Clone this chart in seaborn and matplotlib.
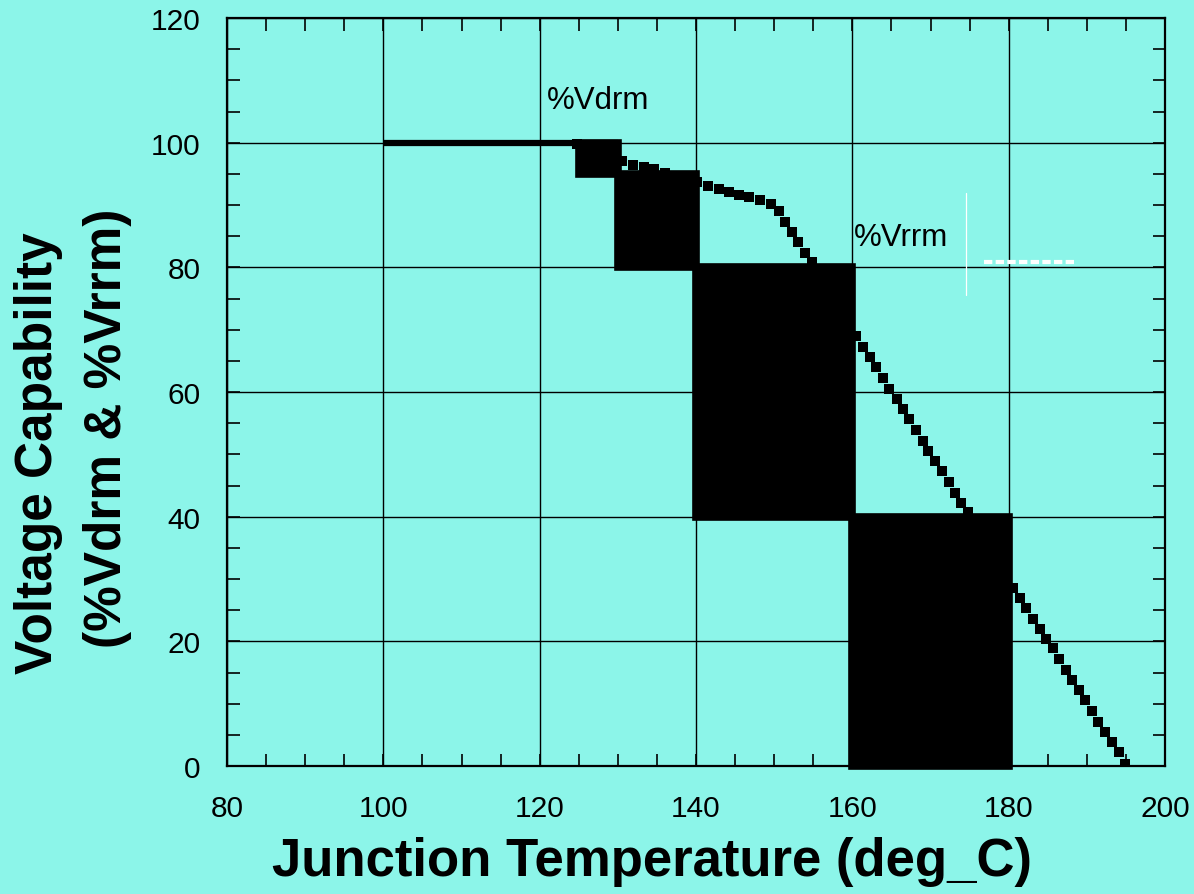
import matplotlib
matplotlib.use("Agg")
import matplotlib.pyplot as plt
from matplotlib.ticker import MultipleLocator
import seaborn as sns
import pandas as pd

# ---- data ----
vdrm_x = [100, 130]
vdrm_y = [100, 100]

curve_x = [124.8, 126.2, 127.7, 129.1, 130.5, 131.9, 133.3, 134.6, 136.0, 137.3,
           138.6, 140.1, 141.5, 142.9, 144.2, 145.5, 146.8, 148.2, 149.6, 150.6,
           151.4, 152.3, 153.0, 153.9, 154.8, 155.6, 156.3, 156.9, 157.8, 158.7,
           159.5, 160.5, 161.4, 162.3, 163.0, 163.9, 164.7, 165.7, 166.5, 167.2,
           168.1, 169.0, 169.7, 170.6, 171.5, 172.4, 173.1, 173.9, 174.8, 175.6,
           176.3, 177.1, 178.0, 178.9, 179.8, 180.6, 181.4, 182.2, 183.1, 184.0,
           184.8, 185.7, 186.4, 187.3, 188.1, 189.0, 189.8, 190.7, 191.4, 192.3,
           193.2, 194.1, 194.9]
curve_y = [99.8, 99.4, 98.8, 98.2, 97.1, 96.4, 96.1, 95.7, 95.2, 94.7,
           94.2, 93.7, 93.1, 92.6, 92.1, 91.6, 91.3, 90.8, 90.2, 89.0,
           87.3, 85.7, 84.1, 82.3, 80.9, 79.4, 77.8, 76.0, 74.4, 72.8,
           71.0, 69.0, 67.2, 65.6, 64.0, 62.3, 60.5, 58.9, 57.3, 55.7,
           53.9, 52.1, 50.5, 48.9, 47.3, 45.6, 43.8, 42.2, 40.7, 39.0,
           37.5, 35.8, 34.1, 32.3, 30.6, 28.6, 27.0, 25.3, 23.6, 22.0,
           20.4, 18.9, 17.2, 15.4, 13.8, 12.2, 10.6, 8.8, 7.1, 5.5,
           3.9, 2.2, 0.3]

block_left = [125, 130, 140, 160]
block_right = [130, 140, 160, 180]
block_bottom = [95, 80, 40, 0]
block_top = [100, 95, 80, 40]

x_ticks = [80, 100, 120, 140, 160, 180, 200]
y_ticks = [0, 20, 40, 60, 80, 100, 120]

bg = "#8CF5E9"

sns.set_theme(style="ticks")
plt.rcParams["font.family"] = ["Liberation Sans", "DejaVu Sans"]
plt.rcParams["text.color"] = "black"
plt.rcParams["axes.labelcolor"] = "black"
plt.rcParams["xtick.color"] = "black"
plt.rcParams["ytick.color"] = "black"

fig = plt.figure(figsize=(11.94, 8.95), dpi=100, facecolor=bg)
ax = fig.add_axes([227 / 1194, 128 / 895, 938 / 1194, 748 / 895])
ax.set_facecolor(bg)

# grid
ax.set_axisbelow(True)
ax.grid(True, which="major", color="black", linewidth=1.0)

# curve markers
df = pd.DataFrame({"T": curve_x, "V": curve_y})
sns.scatterplot(data=df, x="T", y="V", marker="s", s=58, color="black",
                linewidth=0, ax=ax, zorder=2)

# %Vdrm flat line
sns.lineplot(x=vdrm_x, y=vdrm_y, color="black", linewidth=4.5, ax=ax,
             zorder=2, solid_capstyle="butt")

# black blocks
widths = [r - l for l, r in zip(block_left, block_right)]
heights = [t - b for b, t in zip(block_bottom, block_top)]
ax.bar(block_left, heights, width=widths, bottom=block_bottom, align="edge",
       color="black", edgecolor="black", linewidth=5.5, joinstyle="miter",
       zorder=3, clip_on=False)

# white legend-like strokes
ax.plot([174.5, 174.5], [75.6, 91.9], color="white", linewidth=0.9, zorder=4)
ax.plot([176.8, 188.6], [80.9, 80.9], color="white", linewidth=3,
        linestyle=(0, (2, 0.8)), zorder=4, dash_capstyle="butt")

# annotations
ax.text(127.5, 106.8, "%Vdrm", fontsize=22.5, ha="center", va="center", color="black")
ax.text(166.2, 84.9, "%Vrrm", fontsize=22.5, ha="center", va="center", color="black")

ax.set_xlim(80, 200)
ax.set_ylim(0, 120)
ax.set_xticks(x_ticks)
ax.set_yticks(y_ticks)
ax.xaxis.set_minor_locator(MultipleLocator(5))
ax.yaxis.set_minor_locator(MultipleLocator(5))
ax.tick_params(which="both", direction="in", top=True, right=True, colors="black")
ax.tick_params(which="major", length=9, width=1.2)
ax.tick_params(which="minor", length=9, width=1.2)
ax.tick_params(axis="x", which="major", labelsize=21.5, pad=20)
ax.tick_params(axis="y", which="major", labelsize=21.5, pad=19)
ax.set_xlabel("")
ax.set_ylabel("")
for sp in ax.spines.values():
    sp.set_visible(True)
    sp.set_color("black")
    sp.set_linewidth(1.6)

fig.text(652 / 1194, 1 - 862 / 895, "Junction Temperature (deg_C)", fontsize=38,
         fontweight="bold", ha="center", va="center", color="black")
fig.text(38.5 / 1194, 1 - 453 / 895, "Voltage Capability", fontsize=37,
         fontweight="bold", ha="center", va="center", rotation=90, color="black")
fig.text(108 / 1194, 1 - 428 / 895, "(%Vdrm & %Vrrm)", fontsize=37,
         fontweight="bold", ha="center", va="center", rotation=90, color="black")

fig.savefig("out.png", dpi=100, facecolor=bg)
